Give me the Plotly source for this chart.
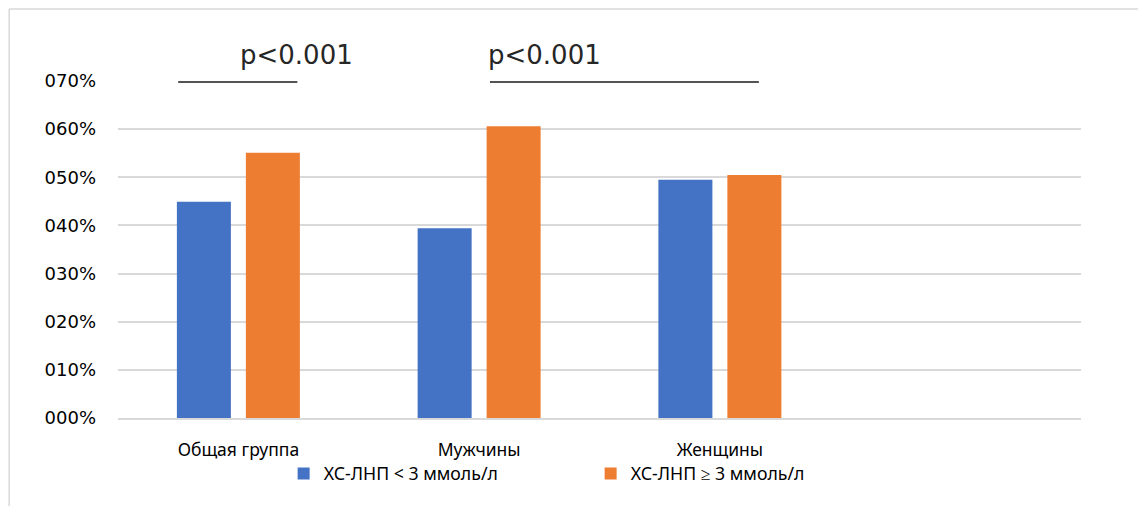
import plotly.graph_objects as go

categories = ["Общая группа", "Мужчины", "Женщины", " "]
series_names = ["ХС-ЛНП < 3 ммоль/л", "ХС-ЛНП ≥ 3 ммоль/л"]
low_values = [0.449, 0.394, 0.495, None]
high_values = [0.551, 0.606, 0.505, None]
colors = ["#4472C4", "#ED7D31"]
tick_vals = [0, 0.1, 0.2, 0.3, 0.4, 0.5, 0.6, 0.7]
tick_text = ["000%", "010%", "020%", "030%", "040%", "050%", "060%", "070%"]
p_labels = ["p<0.001", "p<0.001"]

fig = go.Figure()
for name, vals, col in zip(series_names, [low_values, high_values], colors):
    fig.add_trace(go.Bar(x=categories, y=vals, name=name, marker=dict(color=col, line=dict(width=0))))

# significance brackets (data coords)
brackets = [(-0.25, 0.245), (1.045, 2.162)]
for (x0, x1) in brackets:
    fig.add_shape(type="line", xref="x", yref="y", x0=x0, x1=x1, y0=0.698, y1=0.698,
                  line=dict(color="#1a1a1a", width=1.5))
for xc, lab in zip([0.24, 1.27], p_labels):
    fig.add_annotation(x=xc, y=1.077, xref="x", yref="paper", text=lab, showarrow=False,
                       xanchor="center", yanchor="middle",
                       font=dict(family="DejaVu Sans", size=26, color="#262626"))

# outer chart frame
fig.add_shape(type="line", xref="paper", yref="paper", x0=-0.113, x1=1.2, y0=1.2136, y1=1.2136,
              line=dict(color="#d9d9d9", width=1.5))
fig.add_shape(type="line", xref="paper", yref="paper", x0=-0.113, x1=-0.113, y0=1.2136, y1=-0.4,
              line=dict(color="#d9d9d9", width=1.5))

fig.update_layout(
    width=1138, height=498,
    margin=dict(l=110, r=65, t=73, b=88, autoexpand=False),
    paper_bgcolor="white", plot_bgcolor="white",
    barmode="group", bargap=0.427, bargroupgap=0.217,
    showlegend=True,
    legend=dict(orientation="h", x=0.172, xanchor="left", y=-0.166, yanchor="middle",
                bgcolor="rgba(0,0,0,0)",
                font=dict(family="Noto Sans", size=17.7, color="#000000"),
                itemwidth=30, traceorder="normal",
                entrywidth=262, entrywidthmode="pixels"),
    font=dict(family="Noto Sans", color="#000000"),
)
fig.update_yaxes(range=[0, 0.7], tickvals=tick_vals, ticktext=tick_text, automargin=False,
                 showgrid=True, gridcolor="#d9d9d9", gridwidth=1.5, zeroline=False,
                 showline=False, ticks="", ticklabelstandoff=21,
                 tickfont=dict(family="DejaVu Sans", size=18, color="#000000"))
fig.update_xaxes(range=[-0.5, 3.5], showline=True, linecolor="#d9d9d9", linewidth=1.5,
                 ticks="", ticklabelstandoff=15, automargin=False,
                 tickfont=dict(family="Noto Sans", size=17.5, color="#000000"))

fig.write_html("out.html")
